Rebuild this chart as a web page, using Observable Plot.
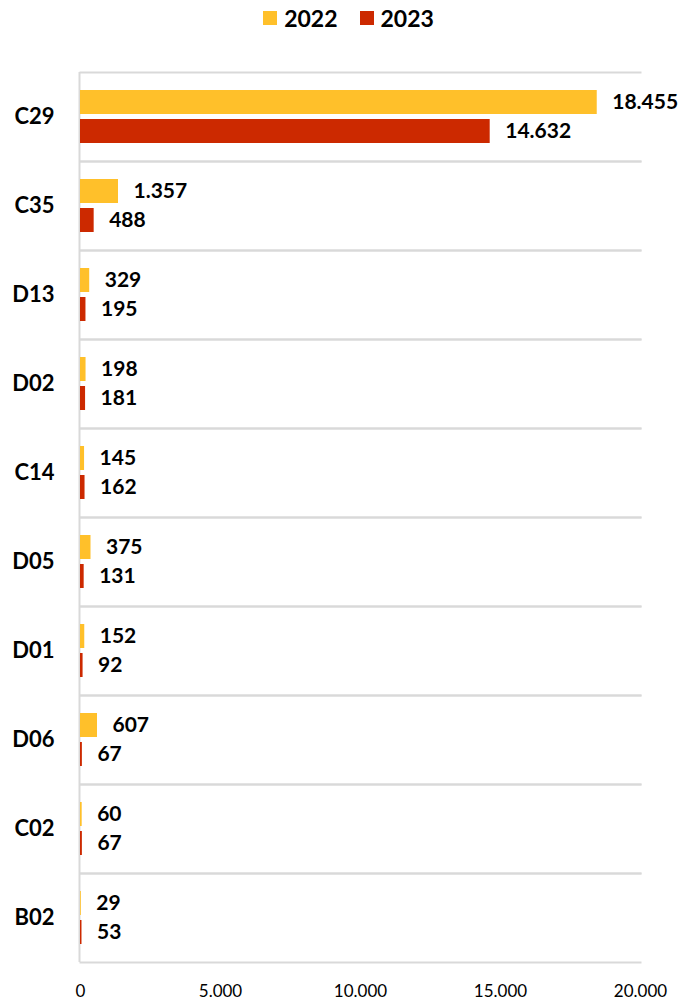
<!DOCTYPE html>
<html>
<head>
<meta charset="utf-8">
<script src="https://cdn.jsdelivr.net/npm/d3@7"></script>
<script src="https://cdn.jsdelivr.net/npm/@observablehq/plot@0.6"></script>
<style>
  html, body { margin: 0; padding: 0; background: #fff; }
  body { width: 683px; font-family: Lato, "Open Sans", sans-serif; }
  #legend { height: 40px; display: flex; justify-content: center; align-items: center; gap: 22px; font-weight: bold; font-size: 23px; color: #000; padding-left: 14px; padding-bottom: 4px; box-sizing: border-box; }
  #legend span.item { display: flex; align-items: center; gap: 7px; }
  #legend span.sw { width: 14px; height: 14px; display: inline-block; }
</style>
</head>
<body>
<div id="legend"></div>
<div id="chart"></div>
<script>
const categories = ["C29", "C35", "D13", "D02", "C14", "D05", "D01", "D06", "C02", "B02"];
const years = ["2022", "2023"];
const values2022 = [18455, 1357, 329, 198, 145, 375, 152, 607, 60, 29];
const values2023 = [14632, 488, 195, 181, 162, 131, 92, 67, 67, 53];
const xTicks = [0, 5000, 10000, 15000, 20000];
const colors = ["#FFC02A", "#CC2900"];

const locale = d3.formatLocale({decimal: ",", thousands: ".", grouping: [3], currency: ["", "€"]});
const fmt = locale.format(",");

const data = [];
categories.forEach((c, i) => {
  data.push({cat: c, year: years[0], value: values2022[i]});
  data.push({cat: c, year: years[1], value: values2023[i]});
});

const legend = document.getElementById("legend");
years.forEach((y, i) => {
  const it = document.createElement("span");
  it.className = "item";
  it.innerHTML = `<span class="sw" style="background:${colors[i]}"></span><span>${y}</span>`;
  legend.appendChild(it);
});

const chart = Plot.plot({
  width: 683,
  height: 961,
  marginTop: 32,
  marginBottom: 39,
  marginLeft: 80,
  marginRight: 43,
  style: {fontFamily: "Lato, 'Open Sans', sans-serif", background: "#fff"},
  x: {domain: [0, 20000], ticks: xTicks, tickFormat: fmt, tickSize: 0, tickPadding: 22, label: null},
  y: {domain: years, axis: null, paddingInner: 0.172, paddingOuter: 0.62},
  fy: {domain: categories, padding: 0, label: null, tickSize: 0, tickPadding: 26},
  color: {domain: years, range: colors},
  marks: [
    Plot.frame({anchor: "top", stroke: "#d9d9d9", strokeWidth: 2}),
    Plot.frame({anchor: "bottom", stroke: "#d9d9d9", strokeWidth: 2}),
    Plot.ruleX([0], {stroke: "#d9d9d9", strokeWidth: 2, dx: -1}),
    Plot.barX(data, {x: "value", y: "year", fy: "cat", fill: "year"}),
    Plot.text(data, {x: "value", y: "year", fy: "cat", text: d => fmt(d.value), dx: 15, textAnchor: "start", fontWeight: "bold", fontSize: 21, fill: "#000"}),
    Plot.axisX({ticks: xTicks, tickFormat: fmt, tickSize: 0, tickPadding: 22, fontSize: 17, fill: "#000", label: null}),
    Plot.axisFy({anchor: "left", tickSize: 0, tickPadding: 26, fontSize: 22, fontWeight: "bold", fill: "#000", label: null})
  ]
});
document.getElementById("chart").appendChild(chart);
</script>
</body>
</html>
